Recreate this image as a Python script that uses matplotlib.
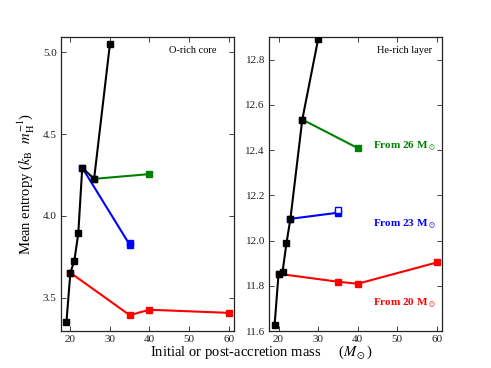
import matplotlib
matplotlib.use("Agg")
import matplotlib.pyplot as plt
from matplotlib.ticker import FormatStrFormatter

plt.rcParams['font.family'] = ['Liberation Serif', 'DejaVu Serif']
plt.rcParams['mathtext.fontset'] = 'stix'

# ---- data ----
# O-rich core (left)
core_base_x = [19, 20, 21, 22, 23, 26, 30]
core_base_y = [3.351, 3.653, 3.726, 3.894, 4.295, 4.227, 5.051]
core_26_x = [26, 40]
core_26_y = [4.227, 4.256]
core_23_x = [23, 35]
core_23_y = [4.295, 3.824]
core_23_extra_x = [35]
core_23_extra_y = [3.834]
core_20_x = [20, 35, 40, 60]
core_20_y = [3.653, 3.394, 3.427, 3.408]

# He-rich layer (right)
he_base_x = [19, 20, 21, 22, 23, 26, 30]
he_base_y = [11.627, 11.853, 11.860, 11.989, 12.096, 12.535, 12.890]
he_26_x = [26, 40]
he_26_y = [12.535, 12.409]
he_23_x = [23, 35]
he_23_y = [12.096, 12.123]
he_23_extra_x = [35]
he_23_extra_y = [12.135]
he_20_x = [20, 35, 40, 60]
he_20_y = [11.853, 11.818, 11.809, 11.903]

xticks = [20, 30, 40, 50, 60]
core_yticks = [3.5, 4.0, 4.5, 5.0]
he_yticks = [11.6, 11.8, 12.0, 12.2, 12.4, 12.6, 12.8]
labels = ["From 26 M$_\\odot$", "From 23 M$_\\odot$", "From 20 M$_\\odot$"]
label_y = [12.416, 12.07, 11.72]

fig = plt.figure(figsize=(4.91, 3.68), dpi=100)
ax1 = fig.add_axes([0.124, 0.1005, 0.352, 0.799])
ax2 = fig.add_axes([0.548, 0.1005, 0.352, 0.799])

green = (0, 0.5, 0)
lw = 1.5
ms = 4

def style(ax):
    ax.tick_params(direction='in', top=True, right=True, length=3.5, width=0.6,
                   labelsize=8, pad=3, colors='#222222')
    for s in ax.spines.values():
        s.set_linewidth(0.9)
        s.set_color('#222222')
    ax.set_xticks(xticks)
    ax.set_xlim(17.6, 61.3)

# left
ax1.plot(core_26_x, core_26_y, '-s', color=green, lw=lw, ms=ms, zorder=2)
ax1.plot(core_23_x, core_23_y, '-s', color='b', lw=lw, ms=ms, zorder=2)
ax1.plot(core_23_extra_x, core_23_extra_y, 's', color='b', mfc='b', ms=ms, zorder=2)
ax1.plot(core_20_x, core_20_y, '-s', color='r', lw=lw, ms=ms, zorder=2)
ax1.plot(core_base_x, core_base_y, '-s', color='k', lw=lw, ms=ms, zorder=3)
style(ax1)
ax1.set_ylim(3.297, 5.094)
ax1.set_yticks(core_yticks)
ax1.yaxis.set_major_formatter(FormatStrFormatter('%.1f'))
ax1.text(45, 0.955, "O-rich core", transform=ax1.get_xaxis_transform(),
         fontsize=7.5, ha='left', va='center')
ax1.set_ylabel("Mean entropy ($k_\\mathrm{B}$  $m_\\mathrm{H}^{-1}$)", fontsize=10.5, labelpad=4)

# right
ax2.plot(he_26_x, he_26_y, '-s', color=green, lw=lw, ms=ms, zorder=2)
ax2.plot(he_23_x, he_23_y, '-s', color='b', lw=lw, ms=ms, zorder=2)
ax2.plot(he_23_extra_x, he_23_extra_y, 's', color='b', mfc='white', mew=1.0, ms=ms, zorder=2)
ax2.plot(he_20_x, he_20_y, '-s', color='r', lw=lw, ms=ms, zorder=2)
ax2.plot(he_base_x, he_base_y, '-s', color='k', lw=lw, ms=ms, zorder=3)
style(ax2)
ax2.set_ylim(11.6, 12.9)
ax2.set_yticks(he_yticks)
ax2.yaxis.set_major_formatter(FormatStrFormatter('%.1f'))
ax2.text(45, 0.955, "He-rich layer", transform=ax2.get_xaxis_transform(),
         fontsize=7.5, ha='left', va='center')
for lab, ly, c in zip(labels, label_y, [green, 'b', 'r']):
    ax2.text(44, ly, lab, color=c, fontsize=8, fontweight='bold', ha='left', va='center')

fig.text(0.532, 0.043, "Initial or post-accretion mass     ($M_\\odot$)",
         ha='center', va='center', fontsize=10.5)

fig.savefig("out.png", dpi=100)
